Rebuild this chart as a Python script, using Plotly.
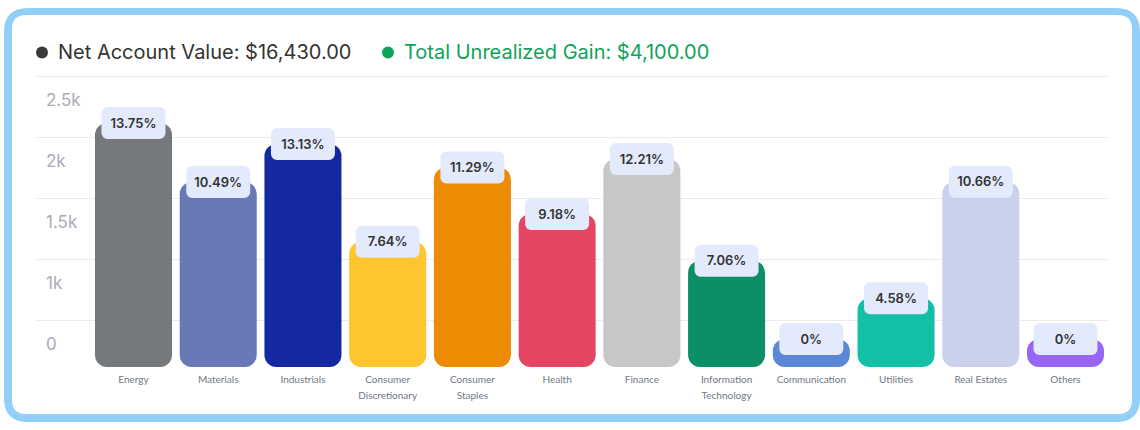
import plotly.graph_objects as go

# ---------------- data ----------------
CATEGORIES = ["Energy", "Materials", "Industrials", "Consumer Discretionary",
              "Consumer Staples", "Health", "Finance", "Information Technology",
              "Communication", "Utilities", "Real Estates", "Others"]
TICK_LINE1 = ["Energy", "Materials", "Industrials", "Consumer", "Consumer", "Health",
              "Finance", "Information", "Communication", "Utilities", "Real Estates", "Others"]
TICK_LINE2 = ["", "", "", "Discretionary", "Staples", "", "", "Technology", "", "", "", ""]
BAR_TOPS = [2115, 1631, 1943, 1142, 1750, 1369, 1820, 986, 344, 678, 1634, 344]
SHARES = ["13.75%", "10.49%", "13.13%", "7.64%", "11.29%", "9.18%", "12.21%",
          "7.06%", "0%", "4.58%", "10.66%", "0%"]
Y_TICKVALS = [500, 1000, 1500, 2000, 2500]
Y_TICKTEXT = ["0", "1k", "1.5k", "2k", "2.5k"]
NET_LABEL = "Net Account Value: $16,430.00"
GAIN_LABEL = "Total Unrealized Gain: $4,100.00"

# ---------------- styles ----------------
COLORS = ["#76797C", "#6979B5", "#1428A0", "#FEC52E", "#EE8B05", "#E34562",
          "#C7C7C7", "#0C8E66", "#5A87D6", "#13C0A7", "#CAD2EB", "#9965F5"]
BOX_COLOR = "#E2EAFC"
FRAME_COLOR = "#91CEF8"
GRID_COLOR = "#EBEBEB"
DARK = "#333333"
GREEN = "#0FA35A"

W, H = 1140, 430
PLOT_L, PLOT_R = 36, 1108
PLOT_TOP, PLOT_BOT = 56, 367          # plot area (px); top gridline sits at 76 px
UPP = 500 / 61.0                      # axis units per pixel
Y_MAX = 2500
GRID_TOP_PX = 76
Y_TOP = Y_MAX + (GRID_TOP_PX - PLOT_TOP) * UPP
Y_MIN = Y_MAX - (PLOT_BOT - GRID_TOP_PX) * UPP
X_RANGE = [-1.1507, 11.5016]
BAR_W = 0.909
BOX_W = 0.755
BOX_H = 32 * UPP
TEXT_DY = 1.5 * UPP                   # small optical nudge of the label text
n = len(CATEGORIES)
IDX = list(range(n))


def px(x):
    return x / W


def py(y):
    return 1 - y / H


def rrect(x0, y0, x1, y1, r):
    return (f"M {px(x0 + r)},{py(y0)} L {px(x1 - r)},{py(y0)} "
            f"Q {px(x1)},{py(y0)} {px(x1)},{py(y0 + r)} L {px(x1)},{py(y1 - r)} "
            f"Q {px(x1)},{py(y1)} {px(x1 - r)},{py(y1)} L {px(x0 + r)},{py(y1)} "
            f"Q {px(x0)},{py(y1)} {px(x0)},{py(y1 - r)} L {px(x0)},{py(y0 + r)} "
            f"Q {px(x0)},{py(y0)} {px(x0 + r)},{py(y0)} Z")


fig = go.Figure()
# bars: floating bars (with base) get rounded corners on both ends
fig.add_trace(go.Bar(
    x=CATEGORIES, y=[t - Y_MIN for t in BAR_TOPS], base=[Y_MIN] * n,
    width=BAR_W, marker=dict(color=COLORS, cornerradius=12, line=dict(width=0)),
    hovertemplate="%{x}<extra></extra>"))
# label boxes centred on each bar top
fig.add_trace(go.Bar(
    x=CATEGORIES, y=[BOX_H] * n, base=[t - BOX_H / 2 for t in BAR_TOPS],
    width=BOX_W, marker=dict(color=BOX_COLOR, cornerradius=6, line=dict(width=0)),
    hoverinfo="skip"))
# percentage texts (on the twin x axis that carries the 2nd label line)
fig.add_trace(go.Scatter(
    x=IDX, y=[t - TEXT_DY for t in BAR_TOPS], text=SHARES, mode="text", xaxis="x2",
    textfont=dict(family="Inter", size=13, color=DARK, weight=600),
    textposition="middle center", cliponaxis=False, hoverinfo="skip"))

tickfont_x = dict(family="Lato", size=10, color="#6F7785")

fig.update_layout(
    width=W, height=H, margin=dict(l=0, r=0, t=0, b=0),
    paper_bgcolor="white", plot_bgcolor="rgba(0,0,0,0)",
    barmode="overlay", showlegend=False,
    xaxis=dict(domain=[px(PLOT_L), px(PLOT_R)], type="category",
               categoryorder="array", categoryarray=CATEGORIES,
               tickmode="array", tickvals=CATEGORIES, ticktext=TICK_LINE1,
               range=X_RANGE, showgrid=False, zeroline=False, showline=False,
               ticks="", tickfont=tickfont_x, ticklabelstandoff=5, anchor="y"),
    xaxis2=dict(overlaying="x", anchor="y", side="bottom", type="linear",
                range=X_RANGE, tickmode="array", tickvals=IDX,
                ticktext=TICK_LINE2, showgrid=False, zeroline=False, showline=False,
                ticks="", tickfont=tickfont_x, ticklabelstandoff=21),
    yaxis=dict(domain=[py(PLOT_BOT), py(PLOT_TOP)], range=[Y_MIN, Y_TOP],
               tickmode="array", tickvals=Y_TICKVALS, ticktext=Y_TICKTEXT,
               showgrid=True, gridcolor=GRID_COLOR, gridwidth=1, zeroline=False,
               showline=False, ticks="", ticklabelposition="inside",
               ticklabelstandoff=7, ticklabelshift=24,
               tickfont=dict(family="Inter", size=17, color="#ABABB5")),
    shapes=[
        dict(type="path", xref="paper", yref="paper", layer="below",
             path=rrect(4, 8, 1140, 422, 24), fillcolor=FRAME_COLOR, line=dict(width=0)),
        dict(type="path", xref="paper", yref="paper", layer="below",
             path=rrect(12, 15, 1132, 414, 14), fillcolor="white", line=dict(width=0)),
        dict(type="circle", xref="paper", yref="paper",
             x0=px(36), x1=px(48), y0=py(58.5), y1=py(46.5),
             fillcolor="#3A3A3A", line=dict(width=0)),
        dict(type="circle", xref="paper", yref="paper",
             x0=px(382), x1=px(394), y0=py(58.5), y1=py(46.5),
             fillcolor=GREEN, line=dict(width=0)),
    ],
    annotations=[
        dict(text=NET_LABEL, xref="paper", yref="paper", x=px(55.5), y=py(52),
             xanchor="left", yanchor="middle", showarrow=False,
             font=dict(family="Inter", size=20, color=DARK)),
        dict(text=GAIN_LABEL, xref="paper", yref="paper", x=px(401.5), y=py(52),
             xanchor="left", yanchor="middle", showarrow=False,
             font=dict(family="Inter", size=20, color=GREEN)),
    ],
)

fig.write_html("out.html", config={"displayModeBar": False},
               post_script="document.body.style.margin='0';"
                           "document.body.style.overflow='hidden';")
